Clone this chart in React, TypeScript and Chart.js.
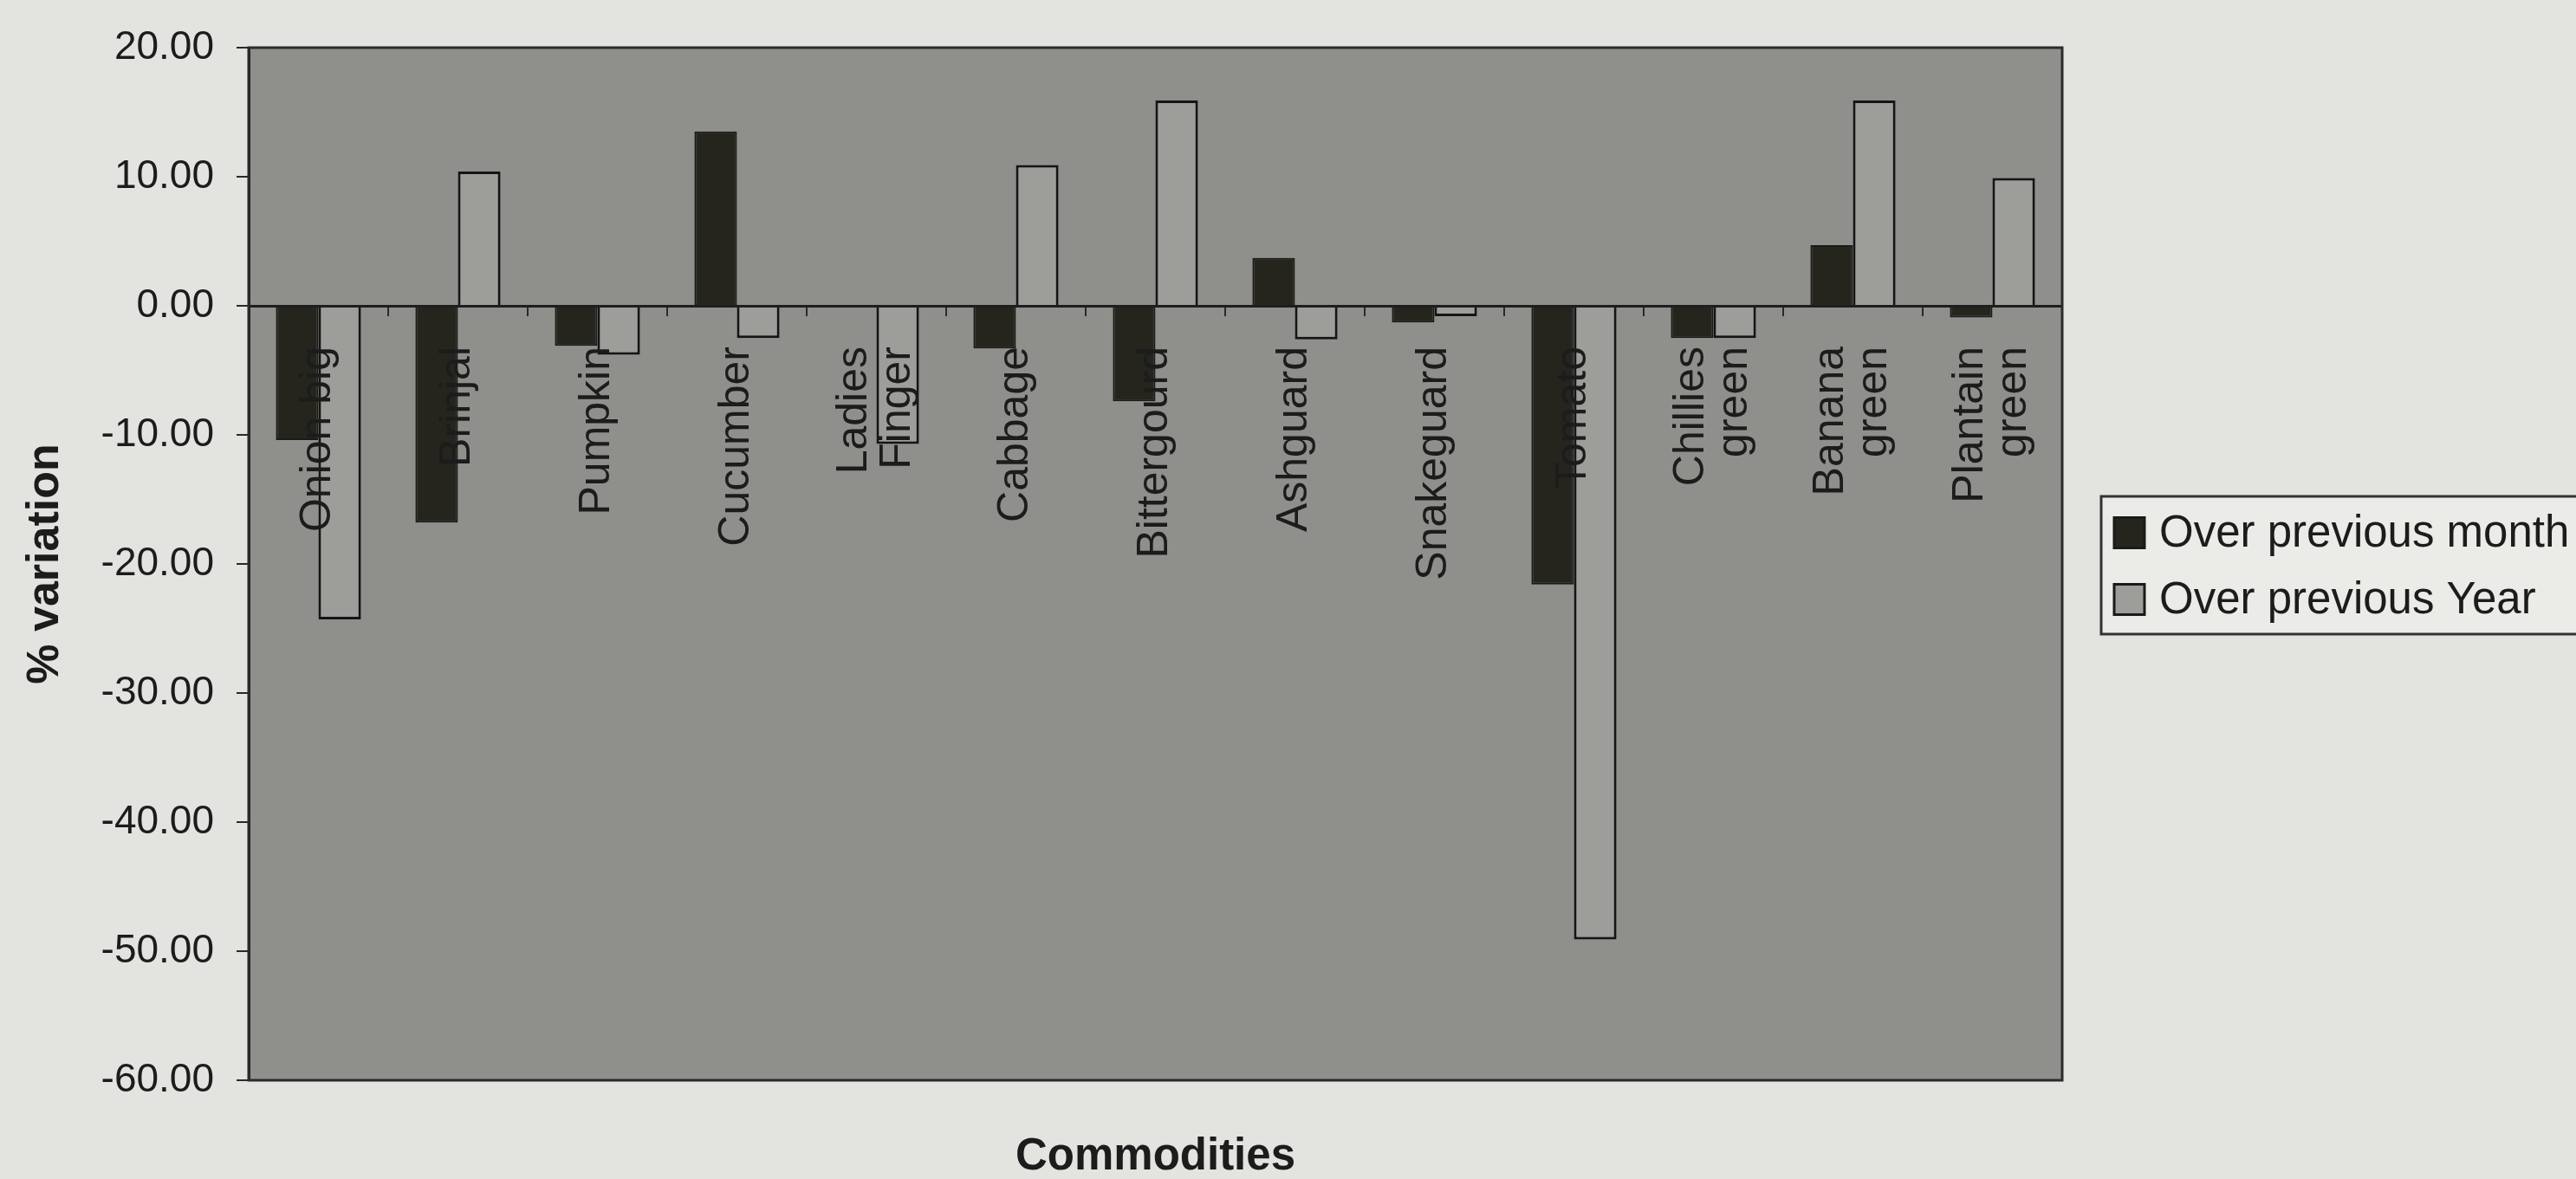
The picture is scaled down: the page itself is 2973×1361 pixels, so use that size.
import React, { useEffect, useRef } from "react";
import { Chart, registerables } from "chart.js";

Chart.register(...registerables);

// ---- data ----
const categories: (string | string[])[] = [
  "Onion big",
  "Brinjal",
  "Pumpkin",
  "Cucumber",
  ["Ladies", "Finger"],
  "Cabbage",
  "Bittergourd",
  "Ashguard",
  "Snakeguard",
  "Tomato",
  ["Chillies", "green"],
  ["Banana", "green"],
  ["Plantain", "green"],
];
const seriesNames = ["Over previous month", "Over previous Year"];
const overPreviousMonth = [-10.4, -16.8, -3.1, 13.5, 0, -3.3, -7.4, 3.7, -1.3, -21.6, -2.5, 4.7, -0.9];
const overPreviousYear = [-24.3, 10.4, -3.8, -2.5, -10.7, 10.9, 15.9, -2.6, -0.8, -49.1, -2.5, 15.9, 9.9];
const yMin = -60;
const yMax = 20;
const yStep = 10;
const xTitle = "Commodities";
const yTitle = "% variation";

// ---- style ----
const W = 2973;
const H = 1361;
const FONT = "'Liberation Sans', Arial, Helvetica, sans-serif";
const PAGE_BG = "#e3e3df";
const PLOT_BG = "#8f8f8c";
const MONTH_COLOR = "#25251e";
const YEAR_COLOR = "#9d9d99";
const INK = "#1c1c1c";

const framePlugin = {
  id: "frame",
  beforeDraw(chart: any) {
    const { ctx, chartArea: a } = chart;
    ctx.save();
    ctx.fillStyle = PAGE_BG;
    ctx.fillRect(0, 0, chart.width, chart.height);
    ctx.fillStyle = PLOT_BG;
    ctx.fillRect(a.left, a.top, a.right - a.left, a.bottom - a.top);
    ctx.restore();

    // centre multi-line rotated category labels on their category
    const sx = chart.scales.x;
    if (sx && sx.getLabelItems) {
      const items = sx.getLabelItems(chart.chartArea);
      items.forEach((it: any) => {
        if (it.__centred) return;
        const lines = Array.isArray(it.label) ? it.label.length : 1;
        if (lines > 1 && it.options && it.options.translation) {
          const lh = it.font.lineHeight;
          it.options.translation[0] -= ((lines - 1) * lh) / 2;
        }
        it.__centred = true;
      });
    }
  },
  afterDraw(chart: any) {
    const { ctx, chartArea: a } = chart;
    ctx.save();
    ctx.strokeStyle = "#2b2b2b";
    ctx.lineWidth = 3;
    ctx.strokeRect(a.left, a.top, a.right - a.left, a.bottom - a.top);
    ctx.restore();
  },
};

const boxLegendPlugin = {
  id: "boxLegend",
  afterDraw(chart: any) {
    const { ctx, chartArea: a } = chart;
    const left = a.right + 45;
    const top = 573;
    const bottom = 732;
    const rows = [615, 692];
    ctx.save();
    ctx.fillStyle = "#ebebe7";
    ctx.fillRect(left, top, chart.width - left + 20, bottom - top);
    ctx.strokeStyle = "#333";
    ctx.lineWidth = 3;
    ctx.strokeRect(left, top, chart.width - left + 20, bottom - top);
    ctx.font = `51px ${FONT}`;
    ctx.textBaseline = "middle";
    ctx.textAlign = "left";
    chart.data.datasets.forEach((ds: any, i: number) => {
      const cy = rows[i];
      const s = 35;
      ctx.fillStyle = ds.backgroundColor;
      ctx.fillRect(left + 15, cy - s / 2, s, s);
      ctx.strokeStyle = "#1a1a1a";
      ctx.lineWidth = 3;
      ctx.strokeRect(left + 15, cy - s / 2, s, s);
      ctx.fillStyle = INK;
      ctx.fillText(ds.label, left + 67, cy + 2);
    });
    ctx.restore();
  },
};

export default function App() {
  const ref = useRef<HTMLCanvasElement | null>(null);

  useEffect(() => {
    document.body.style.margin = "0";
    document.body.style.background = PAGE_BG;
    const canvas = ref.current;
    if (!canvas) return;
    const chart = new Chart(canvas, {
      type: "bar",
      data: {
        labels: categories,
        datasets: [
          {
            label: seriesNames[0],
            data: overPreviousMonth,
            backgroundColor: MONTH_COLOR,
            borderColor: "#1a1a16",
            borderWidth: 2,
            categoryPercentage: 0.61,
            barPercentage: 1.0,
          },
          {
            label: seriesNames[1],
            data: overPreviousYear,
            backgroundColor: YEAR_COLOR,
            borderColor: "#151515",
            borderWidth: 3,
            categoryPercentage: 0.61,
            barPercentage: 1.0,
          },
        ],
      },
      options: {
        responsive: false,
        animation: false,
        devicePixelRatio: 1,
        layout: { padding: { left: 0, top: 55, right: 593, bottom: 0 } },
        plugins: {
          legend: { display: false },
          tooltip: { enabled: false },
          title: {
            display: true,
            text: xTitle,
            position: "bottom",
            fullSize: false,
            color: INK,
            font: { family: FONT, size: 51, weight: "bold", lineHeight: 1.0 },
            padding: { top: 63, bottom: 0 },
          },
        },
        scales: {
          x: {
            type: "category",
            position: { y: 0 } as any,
            offset: true,
            grid: {
              display: true,
              drawOnChartArea: false,
              drawTicks: true,
              tickLength: 10,
              color: "#2a2a2a",
              lineWidth: 2,
              offset: true,
              z: 1,
            },
            border: { display: true, color: "#1e1e1e", width: 3, z: 1 },
            ticks: {
              z: 1,
              autoSkip: false,
              maxRotation: 90,
              minRotation: 90,
              padding: 37,
              color: INK,
              font: { family: FONT, size: 50, lineHeight: 1.0 },
            },
          },
          y: {
            type: "linear",
            position: "left",
            min: yMin,
            max: yMax,
            afterFit: (s: any) => {
              s.width = 287;
            },
            grid: {
              display: true,
              drawOnChartArea: false,
              drawTicks: true,
              tickLength: 14,
              color: "#2a2a2a",
              lineWidth: 2,
            },
            border: { display: true, color: "#1e1e1e", width: 3 },
            ticks: {
              stepSize: yStep,
              padding: 26,
              color: INK,
              font: { family: FONT, size: 46 },
              callback: (v: any) => Number(v).toFixed(2),
            },
            title: {
              display: true,
              text: yTitle,
              color: INK,
              font: { family: FONT, size: 52, weight: "bold", lineHeight: 1.2 },
              padding: { top: 21, bottom: 0 },
            },
          },
        },
      },
      plugins: [framePlugin, boxLegendPlugin],
    });
    return () => chart.destroy();
  }, []);

  return <canvas ref={ref} width={W} height={H} style={{ display: "block" }} />;
}
